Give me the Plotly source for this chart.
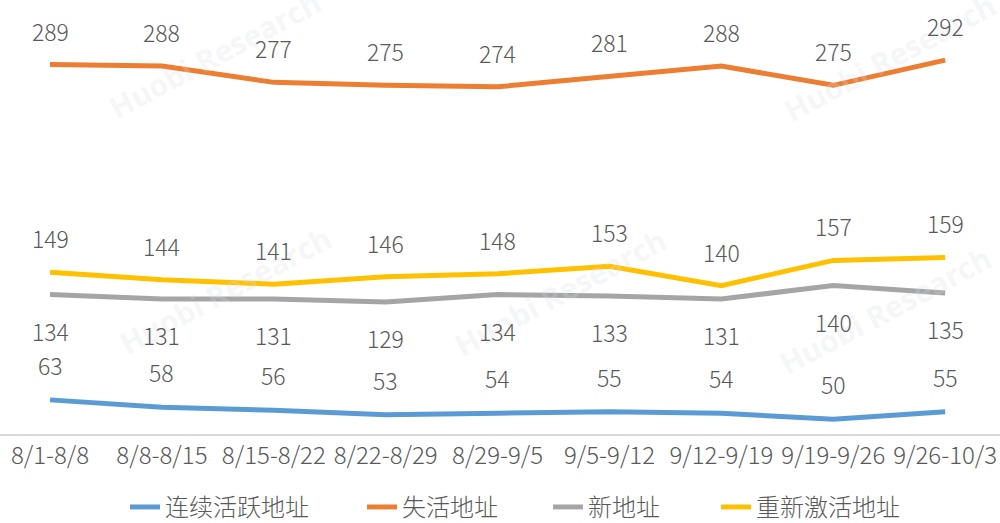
import plotly.graph_objects as go

categories = ["8/1-8/8", "8/8-8/15", "8/15-8/22", "8/22-8/29", "8/29-9/5",
              "9/5-9/12", "9/12-9/19", "9/19-9/26", "9/26-10/3"]
active = [63, 58, 56, 53, 54, 55, 54, 50, 55]
lost = [289, 288, 277, 275, 274, 281, 288, 275, 292]
new = [134, 131, 131, 129, 134, 133, 131, 140, 135]
reactivated = [149, 144, 141, 146, 148, 153, 140, 157, 159]

series = [
    ("连续活跃地址", active, "#5B9BD5", 35),
    ("失活地址", lost, "#ED7D31", 34),
    ("新地址", new, "#A5A5A5", -36),
    ("重新激活地址", reactivated, "#FFC000", 34),
]
legend_left = [125, 362, 548, 716]

FONT = "Noto Sans CJK SC"
TXT = "#595959"
PLOT_H = 434

fig = go.Figure()
annotations = []

# faint watermark
for (wx, wy) in [(215, 55), (225, 290), (560, 292), (890, 58), (885, 310)]:
    annotations.append(dict(
        x=wx / 1000, y=1 - wy / PLOT_H, xref="paper", yref="paper",
        xanchor="center", yanchor="middle",
        text="<b>Huobi Research</b>", showarrow=False, textangle=-28,
        font=dict(family="Open Sans", size=30, color="rgba(215,220,228,0.25)"),
    ))

legend_layout = {}
for i, ((name, vals, color, shift), lx) in enumerate(zip(series, legend_left)):
    lname = "legend" if i == 0 else f"legend{i + 1}"
    fig.add_trace(go.Scatter(
        x=categories, y=vals, mode="lines", name=name, legend=lname,
        line=dict(color=color, width=5), hoverinfo="skip",
    ))
    legend_layout[lname] = dict(
        x=lx / 1000, xanchor="left", y=0.03, yanchor="middle", yref="container",
        bgcolor="rgba(0,0,0,0)",
        font=dict(family=FONT, size=24, color=TXT, weight=300),
    )
    for c, v in zip(categories, vals):
        annotations.append(dict(
            x=c, y=v, xref="x", yref="y", text=str(v), showarrow=False,
            yshift=shift, font=dict(family=FONT, size=23, color=TXT, weight=300),
        ))

fig.update_layout(
    width=1000, height=523,
    margin=dict(l=0, r=0, t=0, b=89, autoexpand=False),
    paper_bgcolor="white", plot_bgcolor="white",
    showlegend=True,
    annotations=annotations,
    xaxis=dict(range=[-0.447, 8.49], showgrid=False, zeroline=False,
               showline=True, linecolor="#D9D9D9", linewidth=1.5,
               ticks="", automargin=False,
               tickfont=dict(family=FONT, size=24, color=TXT, weight=300),
               fixedrange=True),
    yaxis=dict(range=[40, 332.5], showgrid=False, zeroline=False, automargin=False,
               showticklabels=False, showline=False, fixedrange=True),
    **legend_layout,
)

fig.write_html(
    "out.html",
    config={"displayModeBar": False, "staticPlot": True},
    post_script="document.body.style.margin='0';document.body.style.padding='0';"
                "document.body.style.overflow='hidden';",
)
